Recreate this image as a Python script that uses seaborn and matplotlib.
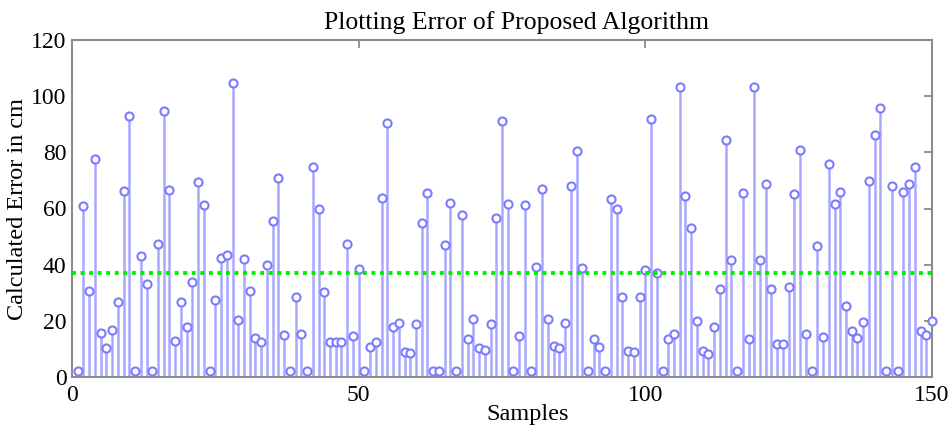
import numpy as np
import pandas as pd
import matplotlib
matplotlib.use("Agg")
import matplotlib.pyplot as plt
import seaborn as sns

# Per-sample localisation error (cm), samples 1..150
errors = [
    2, 61.0, 30.7, 77.8, 15.5, 10.5, 16.7, 26.8, 66.2, 93.0,
    2, 43.0, 33.1, 2, 47.3, 94.6, 66.5, 12.8, 26.6, 17.9,
    33.7, 69.3, 61.4, 2, 27.4, 42.2, 43.4, 104.7, 20.3, 42.0,
    30.7, 14.0, 12.5, 40.0, 55.5, 70.7, 14.9, 2, 28.5, 15.2,
    2, 74.8, 59.9, 30.1, 12.3, 12.3, 12.3, 47.3, 14.6, 38.6,
    2, 10.8, 12.5, 63.8, 90.6, 17.9, 19.3, 9.0, 8.6, 19.0,
    54.9, 65.4, 2, 2, 46.9, 61.8, 2, 57.6, 13.5, 20.6,
    10.4, 9.5, 19.0, 56.5, 91.1, 61.5, 2, 14.6, 61.4, 2,
    39.2, 66.9, 20.5, 11.0, 10.2, 19.3, 67.9, 80.5, 38.9, 2,
    13.5, 10.8, 2, 63.3, 60.0, 28.5, 9.1, 8.8, 28.6, 38.1,
    92.0, 36.9, 2, 13.5, 15.2, 103.3, 64.5, 52.9, 19.9, 9.3,
    8.2, 17.9, 31.5, 84.3, 41.6, 2, 65.4, 13.7, 103.3, 41.6,
    68.6, 31.3, 11.7, 11.7, 32.1, 65.3, 81.0, 15.2, 2, 46.6,
    14.1, 76.0, 61.5, 65.7, 25.2, 16.5, 14.0, 19.7, 69.8, 86.3,
    95.8, 2, 67.9, 2, 65.7, 68.7, 74.8, 16.3, 14.9, 19.9,
]
samples = list(range(1, len(errors) + 1))
mean_error = 36.9

x_ticks = [0, 50, 100, 150]
y_ticks = [0, 20, 40, 60, 80, 100, 120]

df = pd.DataFrame({"Samples": samples, "Error": errors})

sns.set_theme(style="white")
plt.rcParams["font.family"] = ["Liberation Serif", "DejaVu Serif"]
plt.rcParams["text.color"] = "black"
plt.rcParams["axes.labelcolor"] = "black"

fig = plt.figure(figsize=(9.52, 4.25), dpi=100)
ax = fig.add_axes([72 / 952, 48 / 425, 860 / 952, 337 / 425])

stem_color = "#a8a8ff"
marker_color = "#7b7bff"

# stems
ax.vlines(df["Samples"], 0, df["Error"], color=stem_color, linewidth=1.8, zorder=2)
# open circle heads
sns.scatterplot(data=df, x="Samples", y="Error", ax=ax, s=34, marker="o",
                facecolor="white", edgecolor=marker_color, linewidth=1.5,
                zorder=3, legend=False, clip_on=False)

# mean error line
ax.axhline(mean_error, color="#00ee00", linestyle=(0, (1, 1.2)), linewidth=2.8, zorder=4)

ax.set_xlim(0, 150)
ax.set_ylim(0, 120)
ax.set_xticks(x_ticks)
ax.set_yticks(y_ticks)
ax.tick_params(direction="in", length=6, width=1.2, color="#808080",
               top=True, right=True, labelsize=17, pad=4, labelcolor="black")
ax.tick_params(axis="x", pad=6)
for s in ax.spines.values():
    s.set_color("#8c8c8c")
    s.set_linewidth(1.5)

ax.set_title("Plotting Error of Proposed Algorithm", fontsize=18.5, pad=8, x=0.517,
             color="black")
ax.set_xlabel("Samples", fontsize=17.5, labelpad=-4, color="black")
ax.xaxis.set_label_coords(0.530, -0.08)
ax.set_ylabel("Calculated Error in cm", fontsize=17.5, labelpad=2, color="black")

fig.savefig("out.png", dpi=100)
